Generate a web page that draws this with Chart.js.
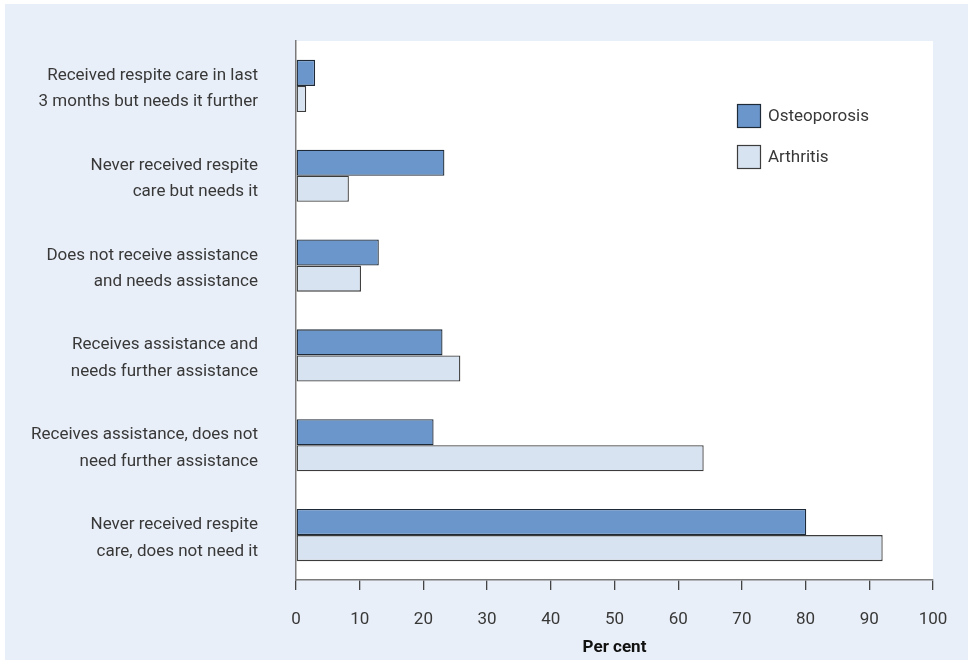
<!DOCTYPE html>
<html>
<head>
<meta charset="utf-8">
<script src="https://cdn.jsdelivr.net/npm/chart.js@4/dist/chart.umd.min.js"></script>
<style>
  body { margin: 0; background: #fff; }
  canvas { display: block; }
</style>
</head>
<body>
<canvas id="myChart" width="968" height="660"></canvas>
<script>
var categories = [
	['Received respite care in last', '3 months but needs it further'],
	['Never received respite', 'care but needs it'],
	['Does not receive assistance', 'and needs assistance'],
	['Receives assistance and', 'needs further assistance'],
	['Receives assistance, does not', 'need further assistance'],
	['Never received respite', 'care, does not need it']
];
var osteoporosis = [3.0, 23.3, 13.0, 23.0, 21.6, 80.1];
var arthritis = [1.6, 8.3, 10.2, 25.8, 64.0, 92.1];
var xTicks = [0, 10, 20, 30, 40, 50, 60, 70, 80, 90, 100];

var FONT = "'Roboto', sans-serif";
var TEXT = '#383838';

// page background + white plot area
var backdrop = {
	id: 'backdrop',
	beforeDraw: function(chart) {
		var c = chart.ctx, a = chart.chartArea;
		c.save();
		c.fillStyle = '#ffffff';
		c.fillRect(0, 0, chart.width, chart.height);
		c.fillStyle = '#e9eff8';
		c.fillRect(5, 4, chart.width - 5, chart.height - 4);
		c.fillStyle = '#ffffff';
		c.fillRect(a.left, a.top, a.right - a.left, a.bottom - a.top);
		c.restore();
	}
};

// legend drawn inside the plot, top right
var innerLegend = {
	id: 'innerLegend',
	afterDraw: function(chart) {
		var c = chart.ctx, a = chart.chartArea;
		var x = a.right - 196, y = a.top + 63;
		c.save();
		c.font = '17px ' + FONT;
		c.textBaseline = 'middle';
		c.textAlign = 'left';
		chart.data.datasets.forEach(function(ds, i) {
			var yy = y + i * 41;
			c.fillStyle = ds.backgroundColor;
			c.fillRect(x, yy, 24, 24);
			c.lineWidth = 1.2;
			c.strokeStyle = ds.borderColor;
			c.strokeRect(x + 0.5, yy + 0.5, 23, 23);
			c.fillStyle = TEXT;
			c.fillText(ds.label, x + 31, yy + 13);
		});
		c.restore();
	}
};

var ctx = document.getElementById('myChart');
var myChart = new Chart(ctx, {
	type: 'bar',
	data: {
		labels: categories,
		datasets: [
			{
				label: 'Osteoporosis',
				data: osteoporosis,
				backgroundColor: '#6b96cb',
				borderColor: '#1e2a38',
				borderWidth: 1.3,
				borderSkipped: false,
				categoryPercentage: 0.58,
				barPercentage: 1
			},
			{
				label: 'Arthritis',
				data: arthritis,
				backgroundColor: '#d8e3f1',
				borderColor: '#3c3c3c',
				borderWidth: 1.3,
				borderSkipped: false,
				categoryPercentage: 0.58,
				barPercentage: 1
			}
		]
	},
	options: {
		indexAxis: 'y',
		responsive: false,
		animation: false,
		layout: { padding: { top: 41, right: 35, left: 0, bottom: 0 } },
		plugins: {
			legend: { display: false },
			tooltip: { enabled: false }
		},
		scales: {
			x: {
				min: 0,
				max: 100,
				afterBuildTicks: function(scale) {
					scale.ticks = xTicks.map(function(v) { return { value: v }; });
				},
				afterFit: function(scale) {
					scale.height = 80;
					scale.paddingLeft = 0;
					scale.paddingRight = 0;
				},
				grid: {
					drawOnChartArea: false,
					drawTicks: true,
					tickLength: 10,
					color: '#444444',
					lineWidth: 1.3
				},
				border: { display: true, color: '#7a7a7a', width: 1.5 },
				ticks: {
					color: TEXT,
					padding: 20,
					font: { family: FONT, size: 17 }
				},
				title: {
					display: true,
					text: 'Per cent',
					color: '#111111',
					padding: { top: 0, bottom: 2 },
					font: { family: FONT, size: 17, weight: 'bold' }
				}
			},
			y: {
				afterFit: function(scale) {
					scale.width = 296;
					scale.paddingTop = 0;
					scale.paddingBottom = 0;
				},
				grid: { display: false, drawTicks: false },
				border: { display: true, color: '#7a7a7a', width: 1.5 },
				ticks: {
					color: TEXT,
					padding: 38,
					labelOffset: 3,
					font: { family: FONT, size: 17, lineHeight: 1.55 }
				}
			}
		}
	},
	plugins: [backdrop, innerLegend]
});
</script>
</body>
</html>
